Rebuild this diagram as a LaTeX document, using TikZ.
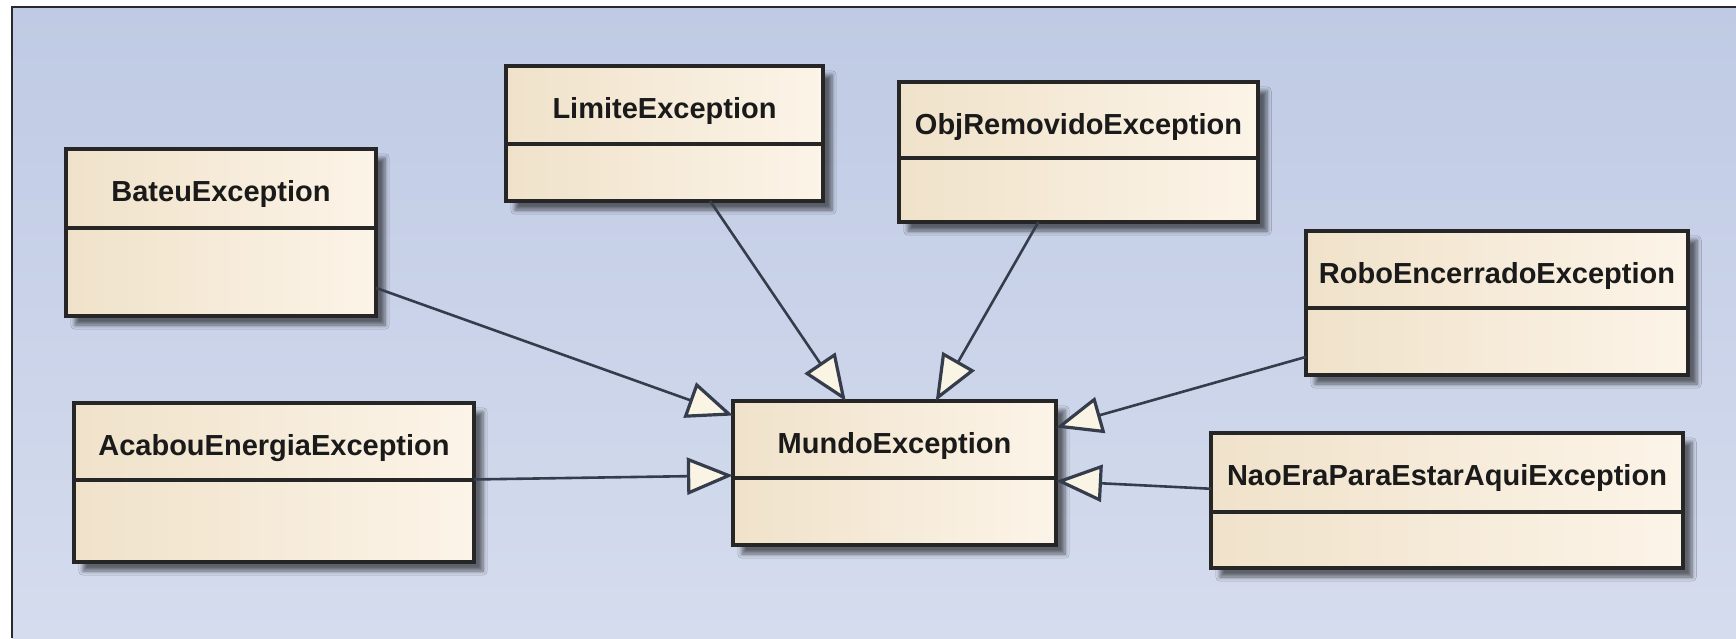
\documentclass[tikz,border=0pt]{standalone}
\usepackage{fontspec}
\setmainfont{Liberation Sans}
\usetikzlibrary{arrows.meta,fit,shadows.blur}

\definecolor{bgtop}{HTML}{BFCAE4}
\definecolor{bgbot}{HTML}{D5DCEE}
\definecolor{clsL}{HTML}{F0E2CA}
\definecolor{clsR}{HTML}{FCF4E8}
\definecolor{clsEdge}{HTML}{262626}
\definecolor{linkc}{HTML}{353D4C}
\definecolor{txtc}{HTML}{1A1A1A}
\definecolor{tipfill}{HTML}{FAF4E4}
\definecolor{framec}{HTML}{2A2A2A}

\tikzset{
  clsbox/.style={draw=clsEdge, line width=1.7pt, left color=clsL, right color=clsR,
    inner sep=0pt, outer sep=0pt,
    blur shadow={shadow xshift=4.5pt, shadow yshift=-4.5pt, shadow blur steps=6, shadow opacity=55}},
  clsdiv/.style={draw=clsEdge, line width=1.6pt},
  clsname/.style={anchor=base, font=\fontsize{14.5}{17}\selectfont\bfseries, text=txtc, inner sep=0pt},
  gen/.style={draw=linkc, line width=1.3pt,
    -{Triangle[length=23pt, width=18.5pt, line width=1.6pt, fill=tipfill]}}
}

% class box: name, left, top, right, bottom, divider, title
\newcommand{\umlclass}[7]{%
  \node[clsbox, fit={(#2,#3) (#4,#5)}] (#1) {};
  \draw[clsdiv] (#2,#6) -- (#4,#6);
  \node[clsname] (#1-name) at ({(#2+#4)/2},{#3+52}) {#7};
}

\begin{document}
\begin{tikzpicture}[x=0.5pt, y=-0.5pt]
  \useasboundingbox (0,0) rectangle (1736,638);
  \fill[white] (0,0) rectangle (1736,638);
  \shade[top color=bgtop, bottom color=bgbot] (12,7) rectangle (1736,638);
  \draw[framec, line width=1pt] (12,638) -- (12,7) -- (1736,7);

  \umlclass{bateu}{66}{149}{376}{316}{228}{BateuException}
  \umlclass{limite}{506}{66}{823}{201}{144}{LimiteException}
  \umlclass{objrem}{899}{82}{1258}{222}{158}{ObjRemovidoException}
  \umlclass{robo}{1306}{231}{1688}{375}{308}{RoboEncerradoException}
  \umlclass{naoera}{1211}{433}{1683}{568}{512}{NaoEraParaEstarAquiException}
  \umlclass{mundo}{733}{401}{1056}{545}{478}{MundoException}
  \umlclass{acabou}{74}{403}{474}{562}{480}{AcabouEnergiaException}

  \draw[gen] (bateu) -- (mundo);
  \draw[gen] (limite) -- (mundo);
  \draw[gen] (objrem) -- (mundo);
  \draw[gen] (robo) -- (mundo);
  \draw[gen] (naoera) -- (mundo);
  \draw[gen] (acabou) -- (mundo);
\end{tikzpicture}
\end{document}
